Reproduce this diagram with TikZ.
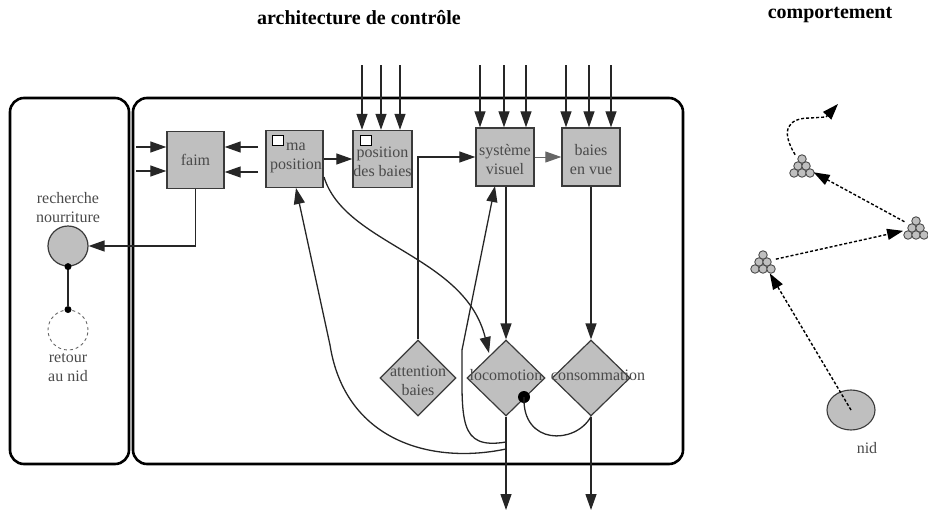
\documentclass[tikz,border=0pt]{standalone}
\usepackage{fontspec}
\setmainfont{Liberation Serif}
\usetikzlibrary{arrows.meta,shapes.geometric}
\definecolor{boxgray}{HTML}{BFBFBF}
\definecolor{linegray}{HTML}{3A3A3A}
\definecolor{txtgray}{HTML}{4A4A4A}
\begin{document}
\begin{tikzpicture}[x=1pt,y=-1pt,
  >={Triangle[length=16pt,width=11pt]},
  frame/.style={line width=2.6pt, rounded corners=14pt},
  box/.style={draw=linegray, line width=1.4pt, fill=boxgray, minimum width=57pt, minimum height=57pt, inner sep=0pt},
  dia/.style={diamond, draw=linegray, line width=1.2pt, fill=boxgray, minimum width=78pt, minimum height=76pt, inner sep=0pt},
  lbl/.style={font=\fontsize{16}{19}\selectfont, text=txtgray, align=center, inner sep=0pt},
  ttl/.style={font=\fontsize{20}{24}\selectfont\bfseries, inner sep=0pt},
  arr/.style={->, line width=1.3pt, draw=black!85},
  conn/.style={line width=1.3pt, draw=black!85},
  darr/.style={->, line width=1.4pt, dash pattern=on 3pt off 2pt},
  smalldot/.style={circle, fill=black, inner sep=0pt, minimum size=7pt},
  bigdot/.style={circle, fill=black, inner sep=0pt, minimum size=12pt},
  berry/.style={circle, draw=black!70, fill=boxgray, line width=0.9pt, inner sep=0pt, minimum size=8.5pt},
  cluster/.style={circle, inner sep=0pt, minimum size=26pt},
  wsquare/.style={draw=black, fill=white, line width=0.9pt, minimum width=11pt, minimum height=10pt, inner sep=0pt},
  berries/.pic={\foreach \bx/\by in {0/-7,-4/0,4/0,-8/7,0/7,8/7} \node[berry] at (\bx,\by) {};}
]
\useasboundingbox (0,0) rectangle (928,519);

% titles
\node[ttl] (t1) at (359,18) {architecture de contrôle};
\node[ttl] (t2) at (830,15) {comportement};

% frames
\draw[frame] (10,98) rectangle (129,464);
\draw[frame] (133,98) rectangle (683,464);

% left states
\node[circle, draw=linegray, line width=1.2pt, fill=boxgray, minimum size=40pt, inner sep=0pt] (rech) at (68,246) {};
\node[circle, draw=black!60, dashed, line width=0.9pt, minimum size=40pt, inner sep=0pt] (ret) at (68,330) {};
\node[lbl] (rechl) at (68,208) {recherche\\nourriture};
\node[lbl] (retl) at (68,368) {retour\\au nid};
\node[smalldot] (d1) at (rech.south) {};
\node[smalldot] (d2) at (ret.north) {};
\draw[conn] (d1) -- (d2);

% boxes
\node[box] (faim) at (195.5,160) {};
\node[box] (mapos) at (294.5,159) {};
\node[box, minimum width=59pt] (posb) at (382.5,159) {};
\node[box, minimum width=58pt, minimum height=58pt] (sysv) at (505,157) {};
\node[box, minimum width=58pt, minimum height=58pt] (bvue) at (591,157) {};
\node[lbl] (faiml) at (faim) {faim};
\node[lbl] (maposl) at (296,158) {ma\\position};
\node[lbl] (posbl) at (382.5,162) {position\\des baies};
\node[lbl] (sysvl) at (505,160) {système\\visuel};
\node[lbl] (bvuel) at (591,160) {baies\\en vue};
\node[wsquare] (sq1) at (277.5,140) {};
\node[wsquare] (sq2) at (365.5,140) {};

% diamonds
\node[dia, minimum width=76pt] (att) at (418,378) {};
\node[dia] (loc) at (506,378) {};
\node[dia] (cons) at (591,378) {};
\node[lbl] (attl) at (418,381) {attention\\baies};
\node[lbl] (locl) at (506,375) {locomotion};
\node[lbl] (consl) at (598,375) {consommation};

% inputs to faim
\coordinate (fl1) at (136,147);
\coordinate (fl2) at (136,171);
\coordinate (fr1) at (258,147);
\coordinate (fr2) at (258,172);
\draw[arr] (fl1) -- (faim.west |- fl1);
\draw[arr] (fl2) -- (faim.west |- fl2);
\draw[arr] (fr1) -- (faim.east |- fr1);
\draw[arr] (fr2) -- (faim.east |- fr2);

% top inputs
\foreach \x in {362,381,400} {\coordinate (tp\x) at (\x,65); \draw[arr] (tp\x) -- (tp\x |- posb.north);}
\foreach \x in {480,504,526} {\coordinate (ts\x) at (\x,65); \draw[arr] (ts\x) -- (ts\x |- sysv.north);}
\foreach \x in {566,589,611} {\coordinate (tb\x) at (\x,65); \draw[arr] (tb\x) -- (tb\x |- bvue.north);}

% box connections
\draw[arr] (mapos.east) -- (posb.west);
\draw[arr, draw=black!60, line width=1pt] (sysv.east) -- (bvue.west);
\draw[arr] (att.north) |- (sysv.west);
\draw[arr] (sysv.south -| loc.north) -- (loc.north);
\draw[arr] (bvue.south -| cons.north) -- (cons.north);
\draw[arr] (faim.south) |- (rech.east);

% outputs
\coordinate (lout) at (506,510);
\coordinate (cout) at (591,510);
\draw[arr] (loc.south) -- (lout);
\draw[arr] (cons.south) -- (cout);

% curves
\coordinate (mp1) at (324,177);
\coordinate (le) at (489,353);
\draw[arr] (mp1) .. controls (345,245) and (465,255) .. (le);
\coordinate (lb1) at (506,449);
\coordinate (lb1m) at (330,345);
\coordinate (mpb) at (296,188);
\draw[arr] (lb1) .. controls (430,465) and (345,440) .. (lb1m) -- (mpb);
\coordinate (lb2) at (506,442);
\coordinate (lb2m) at (462,350);
\coordinate (sv2) at (495,186);
\draw[arr] (lb2) .. controls (458,450) and (462,420) .. (lb2m) -- (sv2);
\node[bigdot] (ldot) at (524,397) {};
\draw[conn] (ldot.center) .. controls (522,445) and (575,445) .. (cons.south);

% behaviour
\node[ellipse, draw=linegray, line width=1.1pt, fill=boxgray, minimum width=48pt, minimum height=40pt, inner sep=0pt] (nid) at (851,410) {};
\node[lbl] (nidl) at (867,448) {nid};
\node[cluster] (bA) at (763,262) {};
\node[cluster] (bB) at (916,228) {};
\node[cluster] (bC) at (802,166) {};
\pic at (bA) {berries};
\pic at (bB) {berries};
\pic at (bC) {berries};
\draw[darr] (nid.center) -- (bA);
\draw[darr] (bA) -- (bB);
\draw[darr] (bB) -- (bC);
\coordinate (end) at (838,104);
\draw[darr] (bC) .. controls (780,130) and (788,118) .. (810,118) -- (826,117) -- (end);
\end{tikzpicture}
\end{document}
